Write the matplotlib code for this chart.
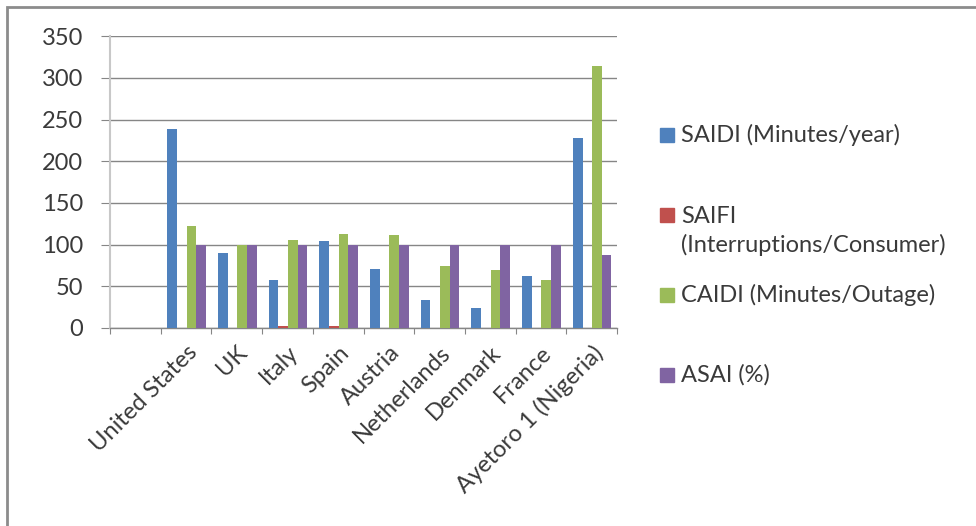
import numpy as np
import matplotlib
matplotlib.use("Agg")
import matplotlib.pyplot as plt
from matplotlib.patches import Rectangle

plt.rcParams['font.family'] = ['Lato', 'DejaVu Sans']

categories = ["", "United States", "UK", "Italy", "Spain", "Austria",
              "Netherlands", "Denmark", "France", "Ayetoro 1 (Nigeria)"]
saidi = [np.nan, 239, 90, 57, 104, 71, 33, 24, 62, 228]
saifi = [np.nan, 0.5, 0.5, 2.2, 2.2, 0.5, 0.3, 0.5, 0.5, 0.5]
caidi = [np.nan, 122, 100, 105, 113, 111, 74, 69, 57, 314]
asai = [np.nan, 100, 100, 100, 100, 100, 100, 100, 100, 88]

series = [
    ("SAIDI (Minutes/year)", saidi, "#4F81BD"),
    ("SAIFI\n(Interruptions/Consumer)", saifi, "#C0504D"),
    ("CAIDI (Minutes/Outage)", caidi, "#9BBB59"),
    ("ASAI (%)", asai, "#8064A2"),
]
yticks = [0, 50, 100, 150, 200, 250, 300, 350]

FS = 17
W, H = 976, 526
fig = plt.figure(figsize=(W / 100, H / 100), dpi=100)
ax = fig.add_axes([110 / W, 1 - 328 / H, 507 / W, (328 - 36.3) / H])

x = np.arange(len(categories)) + 0.5
bw = 0.19
for i, (name, vals, col) in enumerate(series):
    ax.bar(x + (i - 1.5) * bw + 0.01, vals, width=bw, color=col, zorder=3)

ax.set_xlim(0, len(categories))
ax.set_ylim(0, 350)
ax.set_yticks(yticks)
ax.yaxis.grid(True, color="#868686", linewidth=1.0, zorder=0)
ax.tick_params(axis='y', length=6.5, color="#868686", labelsize=FS,
               labelcolor="#3a3a3a", pad=13)
for s in ["top", "right"]:
    ax.spines[s].set_visible(False)
ax.spines["left"].set_color("#c8c8c8")
ax.spines["left"].set_linewidth(1.5)
ax.spines["bottom"].set_color("#868686")
ax.spines["bottom"].set_linewidth(1.0)

ax.set_xticks(np.arange(len(categories) + 1))
ax.set_xticklabels([])
ax.tick_params(axis='x', which='major', length=4, color="#868686")
ax.set_xticks(x, minor=True)
ax.set_xticklabels(categories, minor=True, rotation=45, ha='right',
                   va='top', rotation_mode='anchor', fontsize=FS,
                   color="#3a3a3a")
ax.tick_params(axis='x', which='minor', length=0, pad=10)

# legend (Excel-style slots)
leg_y = [135, 231, 295, 375]
mark_y = [135, 215, 295, 375]
for (name, vals, col), ty, my in zip(series, leg_y, mark_y):
    fig.add_artist(Rectangle((660 / W, 1 - (my + 7) / H), 14 / W, 14 / H,
                             transform=fig.transFigure, color=col))
    fig.text(681 / W, 1 - ty / H, name, fontsize=FS, color="#3a3a3a",
             va='center', ha='left', linespacing=1.36)

# outer chart border
fig.add_artist(Rectangle((7 / W, -0.05), 1.1, 1 - 7 / H + 0.05,
                         transform=fig.transFigure, fill=False,
                         edgecolor="#8c8c8c", linewidth=2))

fig.savefig("out.png", dpi=100)
